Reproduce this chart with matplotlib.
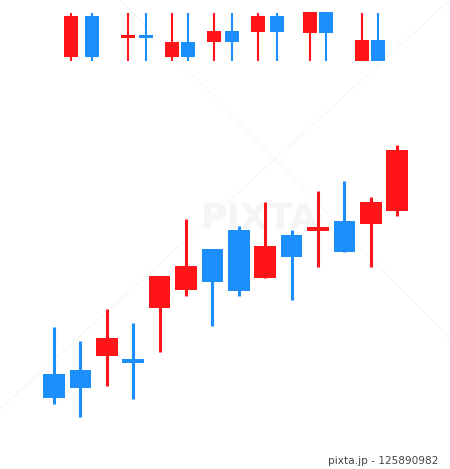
import matplotlib
matplotlib.use("Agg")
import matplotlib.pyplot as plt
import numpy as np

# =============================
# Dados (eixo y para cima)
# =============================
main_open = [95, 99, 113, 110, 161, 179, 220, 239, 191, 234, 238, 248, 245, 258]
main_close = [71, 81, 131, 106, 193, 203, 187, 178, 223, 212, 242, 217, 267, 319]
main_high = [142, 128, 160, 146, 193, 250, 220, 243, 267, 239, 278, 288, 272, 324]
main_low = [65, 52, 83, 70, 117, 173, 143, 173, 191, 169, 202, 217, 202, 253]

# pares do topo: (vermelho, azul) com mesmo formato
pair_x_red = [71, 128, 172, 214, 258, 310, 362]
pair_x_blue = [92, 146, 188, 232, 277, 326, 378]
pair_body_lo = [412, 431, 412, 427, 437, 436, 408]
pair_body_hi = [453, 434, 427, 438, 453, 457, 429]
pair_high = [456, 456, 456, 456, 456, 457, 456]
pair_low = [408, 408, 408, 408, 408, 408, 408]

RED = "#ff1419"
BLUE = "#1c8ffc"

W, H = 450, 469
fig = plt.figure(figsize=(W / 100, H / 100), dpi=100)
fig.patch.set_facecolor("white")

# eixo dos pares (coordenadas em pixels)
ax_top = fig.add_axes([0, 0, 1, 1])
ax_top.set_xlim(0, W)
ax_top.set_ylim(0, H)
ax_top.axis("off")

# marca d'agua discreta
ax_top.plot([0, 450], [60, 469], color="#f4f4f4", lw=0.7, zorder=0)
ax_top.plot([120, 450], [469, 130], color="#f5f5f5", lw=0.7, zorder=0)
ax_top.text(260, 250, "PIXTA", ha="center", va="center", fontsize=26,
            color="#f5f5f5", fontweight="bold", zorder=0)
ax_top.text(438, 8, "pixta.jp - 125890982", ha="right", va="center",
            fontsize=7.6, color="#444444")

for xs, color in ((pair_x_red, RED), (pair_x_blue, BLUE)):
    ax_top.vlines(xs, pair_low, pair_high, color=color, lw=1.5, zorder=2)
    ax_top.bar(xs, np.array(pair_body_hi) - np.array(pair_body_lo),
               bottom=pair_body_lo, width=14, color=color, zorder=3)

# eixo principal: indice dos candles
ax = fig.add_axes([0, 0, 1, 1])
step = 26.4
ax.set_xlim(-54 / step, (W - 54) / step)
ax.set_ylim(0, H)
ax.axis("off")
ax.patch.set_alpha(0)

o = np.array(main_open)
c = np.array(main_close)
idx = np.arange(len(o))
colors = [RED if cc > oo else BLUE for oo, cc in zip(o, c)]
ax.vlines(idx, main_low, main_high, colors=colors, lw=2.2, zorder=2)
ax.bar(idx, np.maximum(np.abs(c - o), 3), bottom=np.minimum(o, c),
       width=21.5 / step, color=colors, zorder=3)

fig.savefig("out.png", dpi=100, facecolor="white")
